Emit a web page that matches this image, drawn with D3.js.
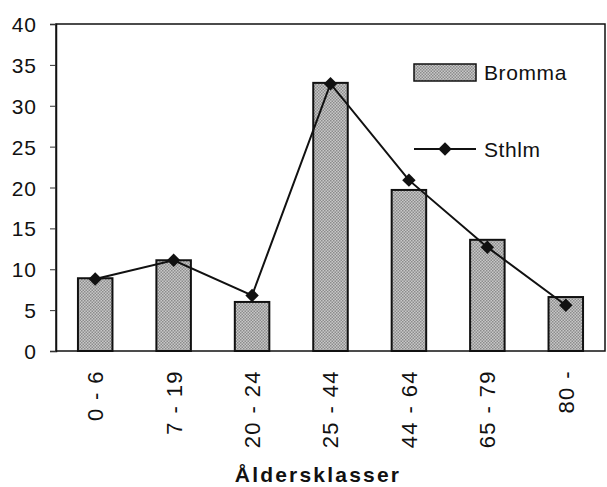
<!DOCTYPE html>
<html>
<head>
<meta charset="utf-8">
<script src="https://cdn.jsdelivr.net/npm/d3@7"></script>
<style>
  body { margin: 0; background: #fff; }
  text { font-family: "Liberation Sans", Arial, sans-serif; fill: #111; }
</style>
</head>
<body>
<div id="chart"></div>
<script>
// age classes and shares (%)
var categories = ["0 - 6", "7 - 19", "20 - 24", "25 - 44", "44 - 64", "65 - 79", "80 -"];
var bromma = [8.9, 11.1, 6.0, 32.8, 19.7, 13.6, 6.6];
var sthlm = [8.8, 11.1, 6.8, 32.7, 20.9, 12.7, 5.6];
var yTicks = [0, 5, 10, 15, 20, 25, 30, 35, 40];

var svgWidth = 607, svgHeight = 487;
// plot box (note: "top" is reserved on window, so use other names)
var plotLeft = 56, plotRight = 605, plotTop = 24, plotBottom = 351;

var svg = d3.select("#chart").append("svg")
    .attr("width", svgWidth)
    .attr("height", svgHeight);

// dotted gray fill like the old print
var defs = svg.append("defs");
var pat = defs.append("pattern")
    .attr("id", "dots")
    .attr("width", 3).attr("height", 3)
    .attr("patternUnits", "userSpaceOnUse");
pat.append("rect").attr("width", 3).attr("height", 3).attr("fill", "#c8c8c8");
pat.append("rect").attr("width", 1.5).attr("height", 1.5).attr("fill", "#8c8c8c");
pat.append("rect").attr("x", 1.5).attr("y", 1.5).attr("width", 1.5).attr("height", 1.5).attr("fill", "#8c8c8c");

var xScale = d3.scaleBand()
    .domain(categories)
    .range([plotLeft, plotRight])
    .paddingInner(0.56)
    .paddingOuter(0.28);

var yScale = d3.scaleLinear()
    .domain([0, 40])
    .range([plotBottom, plotTop]);

// frame
svg.append("rect")
    .attr("x", plotLeft).attr("y", plotTop)
    .attr("width", plotRight - plotLeft).attr("height", plotBottom - plotTop)
    .attr("fill", "none")
    .attr("stroke", "#111")
    .attr("stroke-width", 1.5);

// y axis
var yAxis = d3.axisLeft(yScale)
    .tickValues(yTicks)
    .tickSize(6)
    .tickPadding(13);

var gy = svg.append("g")
    .attr("transform", "translate(" + plotLeft + ",0)")
    .call(yAxis);
gy.select(".domain").attr("stroke", "#111").attr("stroke-width", 1.5);
gy.selectAll(".tick line").attr("stroke", "#333");
gy.selectAll(".tick text")
    .style("font-size", "21px")
    .style("letter-spacing", "1px")
    .style("font-family", "'Liberation Sans', Arial, sans-serif")
    .attr("fill", "#111")
    .attr("dy", "0.36em");

// bars
svg.selectAll("rect.bar")
    .data(bromma)
    .enter().append("rect")
    .attr("class", "bar")
    .attr("x", function(d, i){ return xScale(categories[i]); })
    .attr("y", function(d){ return yScale(d); })
    .attr("width", xScale.bandwidth())
    .attr("height", function(d){ return yScale(0) - yScale(d); })
    .attr("fill", "url(#dots)")
    .attr("stroke", "#111")
    .attr("stroke-width", 2);

// line
var cx = function(i){ return xScale(categories[i]) + xScale.bandwidth() / 2; };
var line = d3.line()
    .x(function(d, i){ return cx(i); })
    .y(function(d){ return yScale(d); });

svg.append("path")
    .datum(sthlm)
    .attr("d", line)
    .attr("fill", "none")
    .attr("stroke", "#111")
    .attr("stroke-width", 2);

var diamond = d3.symbol().type(d3.symbolDiamond2).size(115);
svg.selectAll("path.mark")
    .data(sthlm)
    .enter().append("path")
    .attr("class", "mark")
    .attr("d", diamond)
    .attr("transform", function(d, i){ return "translate(" + cx(i) + "," + yScale(d) + ")"; })
    .attr("fill", "#111");

// x labels, rotated
svg.selectAll("text.xlab")
    .data(categories)
    .enter().append("text")
    .attr("class", "xlab")
    .attr("transform", function(d){ return "translate(" + (xScale(d) + xScale.bandwidth() / 2) + ",370) rotate(-90)"; })
    .attr("text-anchor", "end")
    .attr("dy", "0.36em")
    .style("font-size", "22px")
    .style("letter-spacing", "1.4px")
    .text(function(d){ return d; });

// x title
svg.append("text")
    .attr("x", 318)
    .attr("y", 482)
    .attr("text-anchor", "middle")
    .style("font-size", "21px")
    .style("font-weight", "bold")
    .style("letter-spacing", "2.2px")
    .text("Åldersklasser");

// legend
var lg = svg.append("g");
lg.append("rect")
    .attr("x", 414).attr("y", 64)
    .attr("width", 62).attr("height", 17)
    .attr("fill", "url(#dots)")
    .attr("stroke", "#111")
    .attr("stroke-width", 1.5);
lg.append("text")
    .attr("x", 484).attr("y", 80)
    .style("font-size", "21px")
    .style("letter-spacing", "0.6px")
    .text("Bromma");
lg.append("line")
    .attr("x1", 414).attr("x2", 476)
    .attr("y1", 149).attr("y2", 149)
    .attr("stroke", "#111")
    .attr("stroke-width", 2);
lg.append("path")
    .attr("d", diamond)
    .attr("transform", "translate(445,149)")
    .attr("fill", "#111");
lg.append("text")
    .attr("x", 484).attr("y", 157)
    .style("font-size", "21px")
    .style("letter-spacing", "0.6px")
    .text("Sthlm");
</script>
</body>
</html>
